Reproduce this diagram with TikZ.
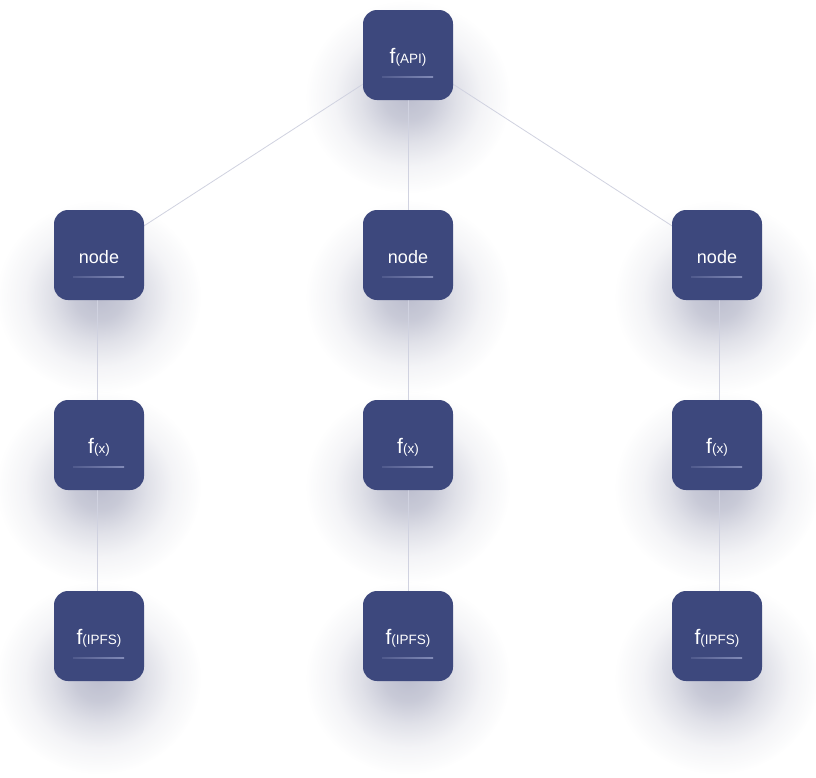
\documentclass[tikz,border=0pt]{standalone}
\usepackage{fontspec}
\setmainfont{Liberation Sans}
\usetikzlibrary{fadings,calc}
\definecolor{boxc}{RGB}{61,72,125}
\definecolor{ulc}{RGB}{150,158,200}
\definecolor{linec}{RGB}{208,210,224}
\definecolor{shc}{RGB}{145,148,175}
\pgfdeclarelayer{bg}
\pgfdeclarelayer{shadowlayer}
\pgfdeclarelayer{linelayer}
\pgfsetlayers{bg,shadowlayer,linelayer,main}
\pgfdeclareradialshading{shadowshade}{\pgfpointorigin}{color(0bp)=(black!0); color(6bp)=(black!18); color(12bp)=(black!55); color(18bp)=(black!83); color(25bp)=(black!100); color(50bp)=(black!100)}
\pgfdeclarefading{softshadow}{\pgfuseshading{shadowshade}}
\newcommand\fsub[1]{{\fontsize{21}{21}\selectfont f}{\fontsize{13.5}{13.5}\selectfont(#1)}}
\tikzset{
  box/.style={draw=none, fill=boxc, rounded corners=14pt, minimum width=90pt, minimum height=90pt,
    inner sep=0pt, text=white, text height=16pt, text depth=0pt, font=\fontsize{18}{18}\selectfont,
    path picture={\shade[sharp corners, left color=boxc, right color=ulc]
      ([xshift=-26pt,yshift=-21pt]path picture bounding box.center) rectangle ++(51pt,-1.7pt);}},
  conn/.style={draw=linec, line width=0.8pt},
  shadowblob/.style={fill=shc, fill opacity=0.6, path fading=softshadow}
}
\begin{document}
\begin{tikzpicture}[x=1pt,y=-1pt]
\useasboundingbox (0,0) rectangle (816,777);
% nodes
\node[box] (api) at (408,55) {\fsub{API}};
\node[box] (n1) at (99,255) {node};
\node[box] (n2) at (408,255) {node};
\node[box] (n3) at (717,255) {node};
\node[box] (x1) at (99,445) {\fsub{x}};
\node[box] (x2) at (408,445) {\fsub{x}};
\node[box] (x3) at (717,445) {\fsub{x}};
\node[box] (p1) at (99,636) {\fsub{IPFS}};
\node[box] (p2) at (408,636) {\fsub{IPFS}};
\node[box] (p3) at (717,636) {\fsub{IPFS}};
\begin{pgfonlayer}{bg}
\fill[white] (0,0) rectangle (816,777);
\end{pgfonlayer}
\begin{pgfonlayer}{shadowlayer}
\foreach \n in {api,n1,n2,n3,x1,x2,x3,p1,p2,p3}{
  \fill[shadowblob] ($(\n.center)+(0,42)$) ellipse [x radius=102pt, y radius=96pt];
}
\end{pgfonlayer}
\begin{pgfonlayer}{linelayer}
\draw[conn] (api.center) -- (n1.center);
\draw[conn] (api.center) -- (n2.center);
\draw[conn] (api.center) -- (n3.center);
\draw[conn] ([xshift=-2pt]n1.center) -- ([xshift=-2pt]x1.center);
\draw[conn] ([xshift=-2pt]x1.center) -- ([xshift=-2pt]p1.center);
\draw[conn] (n2.center) -- (x2.center);
\draw[conn] (x2.center) -- (p2.center);
\draw[conn] ([xshift=2pt]n3.center) -- ([xshift=2pt]x3.center);
\draw[conn] ([xshift=2pt]x3.center) -- ([xshift=2pt]p3.center);
\end{pgfonlayer}
\end{tikzpicture}
\end{document}
